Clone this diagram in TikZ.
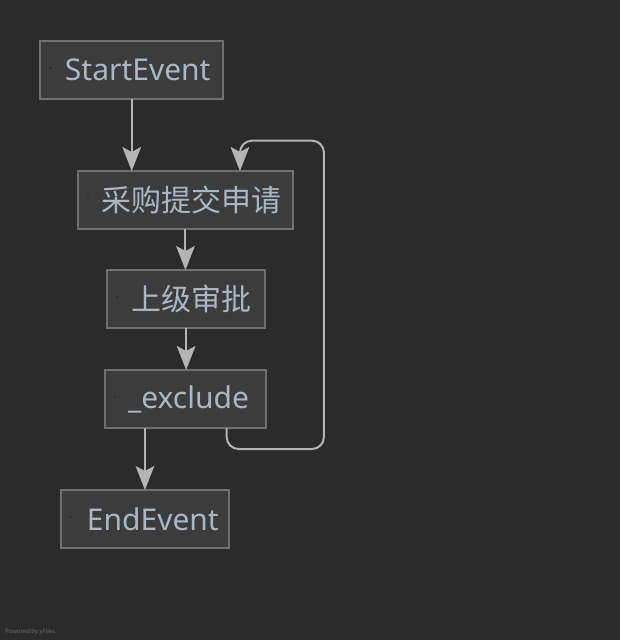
\documentclass[tikz,border=0pt]{standalone}
\usepackage{fontspec}
\setmainfont{Noto Sans}
\newfontfamily\cjk{Noto Sans CJK SC}
\usetikzlibrary{positioning, arrows.meta}
\definecolor{canvas}{HTML}{2B2B2B}
\definecolor{boxfill}{HTML}{3C3C3C}
\definecolor{boxline}{HTML}{707070}
\definecolor{labeltext}{HTML}{A9B7C6}
\definecolor{wire}{HTML}{B4B4B4}
\tikzset{
	>={Stealth[length=18pt, width=14pt, inset=3.75pt]},
	box/.style={draw=boxline, fill=boxfill, line width=1.5pt, text=labeltext,
		font=\fontsize{22.5}{27}\selectfont, inner xsep=0pt, inner ysep=0pt, outer sep=0pt,
		minimum height=43.5pt, text width=#1, align=left},
	flow/.style={->, draw=wire, line width=1.5pt},
}

\begin{document}
\begin{tikzpicture}
			\fill[canvas] (0,0) rectangle (465pt,-480pt);
			\useasboundingbox (0,0) rectangle (465pt,-480pt);

			\node[box=136.9pt] (startev) at (98.8pt,-52.5pt) {\hspace*{18.4pt}StartEvent};
			\node[box=161.25pt, below=54pt of startev, xshift=40.3pt] (apply) {\hspace*{18pt}{\cjk 采购提交申请}};
			\node[box=118.3pt, below=30.75pt of apply, xshift=0.5pt] (approve) {\hspace*{18.3pt}{\cjk 上级审批}};
			\node[box=120.75pt, below=31.5pt of approve, xshift=-0.5pt] (excl) {\hspace*{17.3pt}\_exclude};
			\node[box=126pt, below=46.5pt of excl, xshift=-30.4pt] (endev) {\hspace*{19.5pt}EndEvent};

			% small marks at the left of each box
			\foreach \n in {startev, apply, approve, excl, endev}
				\fill[black] ([shift={(7.5pt,1.5pt)}]\n.west) circle (0.5pt);

			\draw[flow] (startev) -- (apply.north -| startev);
			\draw[flow] (apply.south) -- (apply.south |- approve.north);
			\draw[flow] (approve.south) -- (approve.south |- excl.north);
			\draw[flow] (excl.south -| endev) -- (endev.north);
			\draw[flow, rounded corners=9pt] ([xshift=-29.5pt]excl.south east) -- ++(0,-15.75pt)
				-| ([xshift=23.25pt, yshift=22.75pt]apply.north east) -| ([xshift=-39.75pt]apply.north east);

			\node[anchor=west, text=white!30!canvas, font=\fontsize{4.5}{5}\selectfont, inner sep=0pt] (credit) at (3.75pt,-474pt) {Powered by yFiles};
		\end{tikzpicture}
\end{document}
